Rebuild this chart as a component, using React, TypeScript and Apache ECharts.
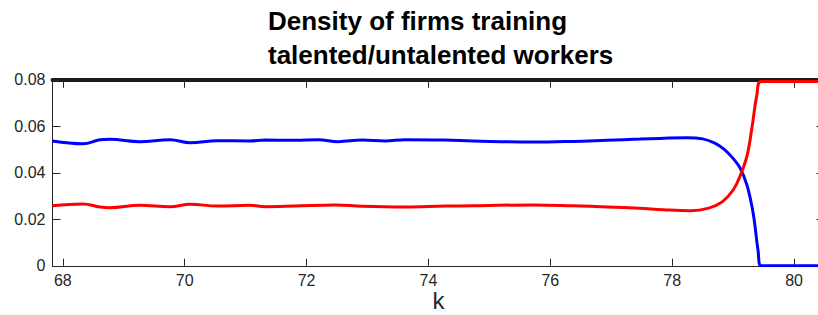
import React, { useEffect, useRef } from "react";
import * as echarts from "echarts";

const titleLines = ["Density of firms training", "talented/untalented workers"];
const xName = "k";
const xTicks = [68, 70, 72, 74, 76, 78, 80];
const yTicks = [0, 0.02, 0.04, 0.06, 0.08];

const kBlue = [67.83, 68.33, 68.61, 68.77, 69.26, 69.76, 70.09, 70.53, 71.07, 71.32, 71.81, 72.19, 72.52, 72.91, 73.29, 73.62, 74.27, 74.73, 75.72, 76.37, 76.93, 77.47, 77.8, 78.25, 78.5, 78.7, 78.85, 79.0, 79.12, 79.23, 79.33, 79.41, 79.46, 80.5];
const blueVals = [0.0537, 0.0525, 0.0542, 0.0544, 0.0534, 0.0542, 0.0529, 0.0538, 0.0537, 0.0541, 0.054, 0.0542, 0.0534, 0.0541, 0.0537, 0.0542, 0.0541, 0.0537, 0.0532, 0.0535, 0.054, 0.0545, 0.0548, 0.0551, 0.0546, 0.0528, 0.0502, 0.0462, 0.0418, 0.0345, 0.0225, 0.0065, 0, 0];

const kRed = [67.83, 68.33, 68.61, 68.77, 69.26, 69.76, 70.09, 70.53, 71.07, 71.32, 71.81, 72.47, 72.91, 73.62, 74.27, 74.73, 75.72, 76.37, 76.93, 77.47, 77.85, 78.3, 78.6, 78.82, 79.0, 79.12, 79.23, 79.31, 79.39, 79.46, 80.5];
const redVals = [0.0258, 0.0266, 0.0253, 0.025, 0.026, 0.0254, 0.0265, 0.0257, 0.026, 0.0254, 0.0257, 0.0262, 0.0256, 0.0253, 0.0257, 0.0258, 0.0262, 0.0258, 0.0253, 0.0247, 0.0241, 0.0237, 0.0248, 0.0275, 0.0326, 0.039, 0.0475, 0.0595, 0.0735, 0.0793, 0.0793];

const FONT = "'Liberation Sans', Arial, Helvetica, sans-serif";
const AX = "#262626";

export default function App() {
  const ref = useRef<HTMLDivElement>(null);
  useEffect(() => {
    document.body.style.margin = "0";
    document.body.style.overflow = "hidden";
    if (!ref.current) return;
    const chart = echarts.init(ref.current, undefined, { renderer: "svg" });
    const xMin = 67.83;
    const xMax = 80.5;
    chart.setOption({
      animation: false,
      backgroundColor: "#ffffff",
      textStyle: { fontFamily: FONT },
      title: {
        text: titleLines.join("\n"),
        left: 268,
        top: 4,
        padding: 0,
        textStyle: { fontFamily: FONT, fontSize: 26, fontWeight: "bold", color: "#000", lineHeight: 34 },
      },
      grid: { left: 52.5, right: -6.5, top: 79.8, bottom: 49.2, containLabel: false, outerBoundsMode: "none" },
      xAxis: [
        {
          type: "value",
          position: "bottom",
          min: xMin,
          max: xMax,
          name: xName,
          nameLocation: "middle",
          nameGap: 23,
          nameMoveOverlap: false,
          nameTextStyle: { fontFamily: FONT, fontSize: 24, lineHeight: 24, color: AX },
          splitLine: { show: false },
          axisLine: { show: true, onZero: false, lineStyle: { color: AX, width: 1 } },
          axisTick: { show: true, inside: true, length: 7, customValues: xTicks, lineStyle: { color: AX, width: 1 } },
          axisLabel: { show: true, customValues: xTicks, margin: 7, fontSize: 16, color: AX, fontFamily: FONT },
        },
        {
          type: "value",
          position: "top",
          min: xMin,
          max: xMax,
          splitLine: { show: false },
          axisLine: { show: true, onZero: false, lineStyle: { color: "#1a1a1a", width: 4 } },
          axisTick: { show: true, inside: true, length: 8, customValues: xTicks, lineStyle: { color: AX, width: 1 } },
          axisLabel: { show: false },
        },
      ],
      yAxis: [
        {
          type: "value",
          position: "left",
          min: 0,
          max: 0.08,
          interval: 0.02,
          splitLine: { show: false },
          axisLine: { show: true, onZero: false, lineStyle: { color: AX, width: 1 } },
          axisTick: { show: true, inside: true, length: 8, customValues: yTicks, lineStyle: { color: AX, width: 1 } },
          axisLabel: { show: true, customValues: yTicks, margin: 7, fontSize: 16, color: AX, fontFamily: FONT },
        },
        {
          type: "value",
          position: "right",
          min: 0,
          max: 0.08,
          interval: 0.02,
          splitLine: { show: false },
          axisLine: { show: true, onZero: false, lineStyle: { color: AX, width: 1 } },
          axisTick: { show: true, inside: true, length: 8, customValues: yTicks, lineStyle: { color: AX, width: 1 } },
          axisLabel: { show: false },
        },
      ],
      series: [
        {
          type: "line",
          xAxisIndex: 0,
          yAxisIndex: 0,
          data: kBlue.map((k, i) => [k, blueVals[i]]),
          showSymbol: false,
          symbol: "none",
          smooth: 0.4,
          clip: true,
          lineStyle: { color: "#0000ff", width: 3 },
          z: 3,
        },
        {
          type: "line",
          xAxisIndex: 0,
          yAxisIndex: 0,
          data: kRed.map((k, i) => [k, redVals[i]]),
          showSymbol: false,
          symbol: "none",
          smooth: 0.4,
          clip: false,
          lineStyle: { color: "#ff0000", width: 3 },
          z: 4,
        },
      ],
    });
    return () => chart.dispose();
  }, []);
  return <div ref={ref} style={{ width: 818, height: 315 }} />;
}
